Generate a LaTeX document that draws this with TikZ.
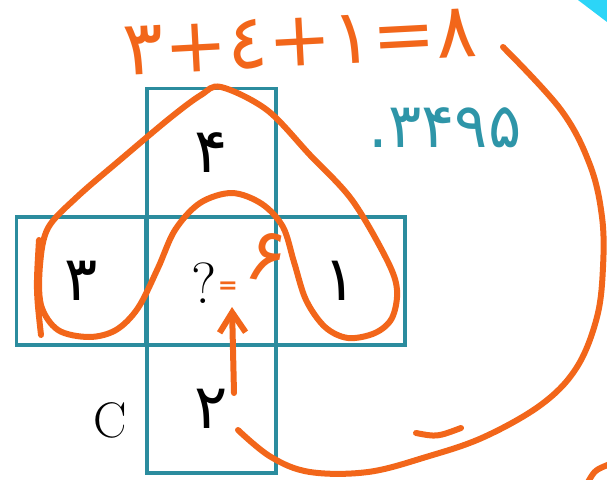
\documentclass[tikz,border=0pt]{standalone}
\usepackage{fontspec}
\usepackage{tikz}
\usetikzlibrary{arrows.meta, positioning}
\newfontfamily\fafont{DejaVu Sans}
\definecolor{NetTeal} {HTML}{2B8C9E}
\definecolor{NumTeal} {HTML}{2E95A8}
\definecolor{Marker}  {HTML}{F2661A}
\definecolor{Glow}    {HTML}{2CD5F7}

\begin{document}
\begin{tikzpicture}[x=1pt, y=-1pt,
  cell/.style={draw=NetTeal, line width=3.5pt, minimum width=129pt,
               minimum height=128pt, inner sep=0pt,
               font=\fafont\fontsize{62}{62}\selectfont},
  pen/.style={draw=Marker, line width=6pt, line cap=round, line join=round}]
  \useasboundingbox (0,0) rectangle (607,479);
  % Cube net
  \node[cell] (up)    at (211.5,152.5) {۴};
  \node[cell] (left)  at (81,281)      {۳};
  \node[cell] (mid)   at (211.5,281)   {};
  \node[cell] (right) at (340.5,281)   {۱};
  \node[cell] (down)  at (211.5,409)   {۲};
  \node[inner sep=0pt, font=\fontsize{58}{58}\selectfont] (ask) at (204,283) {?};
  \node[font=\fontsize{50}{50}\selectfont] (C) at (110,420) {C};
  % Problem number
  \node[text=NumTeal, font=\fafont\fontsize{62}{62}\selectfont] (qnum) at (445,128) {.۳۴۹۵};
  % Handwritten sum
  \node[text=Marker, font=\fafont\fontsize{76}{76}\selectfont, rotate=3] (sum) at (300,42) {۳+٤+۱=۸};
  % Ring round the three faces
  \draw[pen] plot[smooth cycle, tension=0.55] coordinates {
    (221,87) (267,110) (310,155) (352,200) (387,260) (397,290) (392,318)
    (375,333) (348,338) (325,327) (306,300) (294,262) (283,227) (262,204)
    (232,193) (200,203) (175,230) (158,268) (138,308) (116,330) (89,337)
    (58,330) (41,305) (40,265) (48,228) (77,197) (120,160) (170,118) (201,95)};
  \draw[pen] (39,240) .. controls (36,290) .. (41,335);
  % Answer
  \node[inner sep=0pt, text=Marker, font=\fafont\bfseries\fontsize{24}{24}\selectfont] (eq) at (228,288) {=};
  \node[inner sep=0pt, text=Marker, font=\fafont\fontsize{76}{76}\selectfont, rotate=-10] (six) at (267,257) {۶};
  \coordinate (tail) at (234,393);
  \coordinate (tip)  at (232,307);
  \draw[pen, -{Straight Barb[length=20pt, width=26pt]}] (tail) -- (tip);
  % Big loop and strays
  \draw[pen] plot[smooth, tension=0.6] coordinates {
    (503,47) (561,110) (590,165) (602,217) (603,267) (597,317) (577,367)
    (542,404) (484,437) (426,457) (368,472) (310,472) (271,457) (238,430)};
  \draw[pen] (416,433) .. controls (437,437) .. (461,428);
  \draw[pen] (588,482) .. controls (595,470) .. (610,464);
  \fill[Glow] (578,0) -- (607,0) -- (607,22) -- cycle;
\end{tikzpicture}
\end{document}
